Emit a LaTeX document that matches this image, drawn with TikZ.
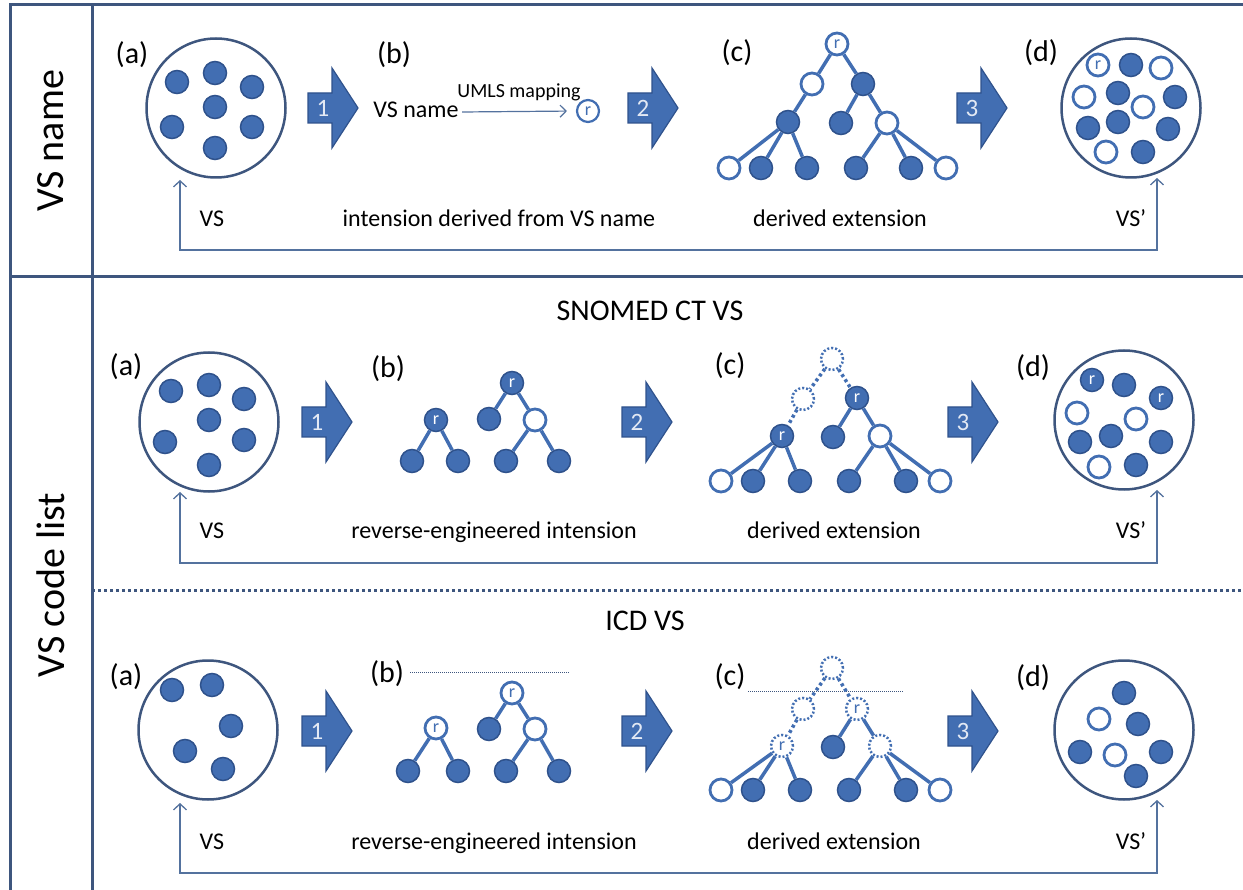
\documentclass[tikz,border=0pt]{standalone}
\usepackage{fontspec}
\setmainfont{Carlito}
\usetikzlibrary{arrows.meta}
\definecolor{dotblue}{RGB}{66,110,178}
\definecolor{dotedge}{RGB}{47,82,140}
\definecolor{frameblue}{RGB}{62,86,126}
\definecolor{lineblue}{RGB}{84,114,158}

\begin{document}
\begin{tikzpicture}[x=1pt,y=-1pt,
            frame/.style={draw=frameblue,line width=3pt},
            side/.style={rotate=90,font=\fontsize{40}{40}\selectfont},
            title/.style={font=\fontsize{30}{30}\selectfont},
            tag/.style={font=\fontsize{30}{30}\selectfont},
            lab/.style={font=\fontsize{24}{24}\selectfont,text height=17pt,text depth=6pt},
            set/.style={circle,draw=frameblue,line width=2.5pt,fill=white,minimum size=139pt,inner sep=0pt},
            dot/.style={circle,draw=dotedge,fill=dotblue,line width=1.5pt,minimum size=23pt,inner sep=0pt,text=white,font=\fontsize{18}{18}\selectfont},
            wdot/.style={dot,draw=dotblue,fill=white,line width=2.8pt,text=dotblue,minimum size=22pt},
            ghost/.style={wdot,line width=2.5pt,dash pattern=on 2pt off 2pt},
            tree/.style={draw=dotblue,line width=3.5pt},
            ghostline/.style={tree,dash pattern=on 3pt off 3pt},
            feedback/.style={draw=lineblue,line width=1.3pt,{Straight Barb[length=6pt,width=13pt]}-{Straight Barb[length=6pt,width=13pt]}},
            num/.style={text=white!85!dotblue,font=\fontsize{25}{25}\selectfont},
            stepfill/.style={fill=dotblue,draw=dotedge,line width=1.2pt}
          ]
          \useasboundingbox (0,0) rectangle (1243,890);

          %frame
          \draw[frame] (10,890) -- (10,5) -- (1243,5);
          \draw[frame] (92,5) -- (92,890);
          \draw[frame] (10,277) -- (1243,277);
          \draw[frame,dash pattern=on 3pt off 3pt] (92,590) -- (1243,590);
          \node[side] (vsname) at (51,141) {VS name};
          \node[side] (vscode) at (51,585) {VS code list};
          \node[title] (snomed) at (650,311) {SNOMED CT VS};
          \node[title] (icd) at (645,621) {ICD VS};

          %steps
          \foreach \x/\y/\n in {308/108/1,628/108/2,957/108/3,302/422/1,622/422/2,948/422/3,302/731/1,622/731/2,948/731/3}{
            \filldraw[stepfill] (\x,\y-15) -- ++(24,0) -- ++(0,-25) -- ++(26,40) -- ++(-26,40) -- ++(0,-25) -- ++(-24,0) -- cycle;
            \node[num] (step-\x-\y) at (\x+15,\y) {\n};
          }

          %tags
          \node[tag] (ta) at (132,55) {(a)};
          \node[tag] (tb) at (394,55) {(b)};
          \node[tag] (tc) at (737,53) {(c)};
          \node[tag] (td) at (1041,53) {(d)};
          \node[tag] (ma) at (126,367) {(a)};
          \node[tag] (mb) at (388,369) {(b)};
          \node[tag] (mc) at (730,366) {(c)};
          \node[tag] (md) at (1033,368) {(d)};
          \node[tag] (ba) at (126,677) {(a)};
          \node[tag] (bb) at (387,674) {(b)};
          \node[tag] (bc) at (730,677) {(c)};
          \node[tag] (bd) at (1033,678) {(d)};

          %sets
          \node[set] (tset) at (216,108) {};
          \node[set] (tnew) at (1131,108) {};
          \node[set] (mset) at (209,422) {};
          \node[set] (mnew) at (1124,420) {};
          \node[set] (bset) at (208,730) {};
          \node[set] (bnew) at (1124,730) {};
          \foreach \x/\y [count=\i] in {177/82,215/73,252/87,215/107,172/127,252/127,215/148}
            \node[dot] (ta\i) at (\x,\y) {};
          \foreach \x/\y [count=\i] in {171/391,209/385,244/399,209/420,165/442,244/440,209/465}
            \node[dot] (ma\i) at (\x,\y) {};
          \foreach \x/\y [count=\i] in {172/690,212/685,231/726,185/751,223/769}
            \node[dot] (ba\i) at (\x,\y) {};
          \node[wdot] (td0) at (1098,65) {r};
          \foreach \x/\y [count=\i] in {1131/65,1118/93,1175/97,1088/128,1118/122,1168/129,1143/152}
            \node[dot] (td\i) at (\x,\y) {};
          \foreach \x/\y [count=\i] in {1161/68,1084/97,1143/107,1106/152}
            \node[wdot] (tw\i) at (\x,\y) {};
          \node[dot] (md0) at (1092,380) {r};
          \node[dot] (mdr) at (1161,398) {r};
          \foreach \x/\y [count=\i] in {1124/385,1080/442,1111/436,1161/442,1136/465}
            \node[dot] (md\i) at (\x,\y) {};
          \foreach \x/\y [count=\i] in {1077/413,1136/419,1099/467}
            \node[wdot] (mw\i) at (\x,\y) {};
          \foreach \x/\y [count=\i] in {1124/693,1138/724,1080/752,1161/752,1136/776}
            \node[dot] (bd\i) at (\x,\y) {};
          \foreach \x/\y [count=\i] in {1099/719,1115/755}
            \node[wdot] (bw\i) at (\x,\y) {};

          %intension from name
          \node[lab] (tname) at (416,112) {VS name};
          \node[wdot,minimum size=22pt,line width=2.2pt] (tr) at (588,111) {r};
          \draw[draw=lineblue,line width=1.2pt,-{Straight Barb[length=6pt,width=12pt]},shorten >=9pt] (tname.east) -- (tr.west)
            node[midway,above=7pt,font=\fontsize{20}{20}\selectfont] (umls) {UMLS mapping};

          %derived extension, top
          \node[wdot] (tc0) at (837,44) {r};
          \node[wdot] (tc1) at (812,84) {};
          \node[dot] (tc2) at (863,84) {};
          \node[dot] (tc3) at (788,122) {};
          \node[dot] (tc4) at (841,123) {};
          \node[wdot] (tc5) at (887,123) {};
          \node[wdot] (tc6) at (729,168) {};
          \node[dot] (tc7) at (761,168) {};
          \node[dot] (tc8) at (807,168) {};
          \node[dot] (tc9) at (856,168) {};
          \node[dot] (tc10) at (911,168) {};
          \node[wdot] (tc11) at (946,168) {};
          \path[tree] (tc0) edge (tc1) (tc0) edge (tc2) (tc1) edge (tc3) (tc2) edge (tc4) (tc2) edge (tc5)
            (tc3) edge (tc6) (tc3) edge (tc7) (tc3) edge (tc8) (tc5) edge (tc9) (tc5) edge (tc10) (tc5) edge (tc11);

          %intension, snomed
          \node[dot] (mb0) at (436,420) {r};
          \node[dot] (mb1) at (412,461) {};
          \node[dot] (mb2) at (458,461) {};
          \node[dot] (mb3) at (512,383) {r};
          \node[dot] (mb4) at (489,419) {};
          \node[wdot] (mb5) at (535,420) {};
          \node[dot] (mb6) at (506,461) {};
          \node[dot] (mb7) at (559,461) {};
          \path[tree] (mb0) edge (mb1) (mb0) edge (mb2) (mb3) edge (mb4) (mb3) edge (mb5) (mb5) edge (mb6) (mb5) edge (mb7);

          %extension, snomed
          \node[ghost] (mc0) at (832,359) {};
          \node[ghost] (mc1) at (803,399) {};
          \node[dot] (mc2) at (857,398) {r};
          \node[dot] (mc3) at (782,436) {r};
          \node[dot] (mc4) at (833,437) {};
          \node[wdot] (mc5) at (880,436) {};
          \node[wdot] (mc6) at (721,481) {};
          \node[dot] (mc7) at (753,481) {};
          \node[dot] (mc8) at (800,481) {};
          \node[dot] (mc9) at (849,481) {};
          \node[dot] (mc10) at (906,481) {};
          \node[wdot] (mc11) at (940,481) {};
          \path[ghostline] (mc0) edge (mc1) (mc0) edge (mc2) (mc1) edge (mc3);
          \path[tree] (mc2) edge (mc4) (mc2) edge (mc5) (mc3) edge (mc6) (mc3) edge (mc7) (mc3) edge (mc8)
            (mc5) edge (mc9) (mc5) edge (mc10) (mc5) edge (mc11);

          %intension, icd
          \draw[densely dotted,line width=1pt,frameblue] (410,672) -- (570,672);
          \node[wdot] (bb0) at (436,728) {r};
          \node[dot] (bb1) at (408,771) {};
          \node[dot] (bb2) at (458,771) {};
          \node[wdot] (bb3) at (512,693) {r};
          \node[dot] (bb4) at (489,729) {};
          \node[wdot] (bb5) at (535,729) {};
          \node[dot] (bb6) at (506,771) {};
          \node[dot] (bb7) at (559,771) {};
          \path[tree] (bb0) edge (bb1) (bb0) edge (bb2) (bb3) edge (bb4) (bb3) edge (bb5) (bb5) edge (bb6) (bb5) edge (bb7);

          %extension, icd
          \draw[densely dotted,line width=1pt,frameblue] (748,691) -- (903,691);
          \node[ghost] (bc0) at (832,668) {};
          \node[ghost] (bc1) at (803,709) {};
          \node[ghost] (bc2) at (857,709) {r};
          \node[ghost] (bc3) at (782,746) {r};
          \node[dot] (bc4) at (833,747) {};
          \node[ghost] (bc5) at (880,746) {};
          \node[wdot] (bc6) at (721,790) {};
          \node[dot] (bc7) at (753,790) {};
          \node[dot] (bc8) at (800,790) {};
          \node[dot] (bc9) at (849,790) {};
          \node[dot] (bc10) at (906,790) {};
          \node[wdot] (bc11) at (940,790) {};
          \path[ghostline] (bc0) edge (bc1) (bc0) edge (bc2) (bc1) edge (bc3);
          \path[tree] (bc2) edge (bc4) (bc2) edge (bc5) (bc3) edge (bc6) (bc3) edge (bc7) (bc3) edge (bc8)
            (bc5) edge (bc9) (bc5) edge (bc10) (bc5) edge (bc11);

          %labels
          \node[lab] (tvs) at (212,221) {VS};
          \node[lab] (tint) at (499,221) {intension derived from VS name};
          \node[lab] (text) at (840,221) {derived extension};
          \node[lab] (tvsp) at (1131,221) {VS’};
          \node[lab] (mvs) at (212,533) {VS};
          \node[lab] (mint) at (494,533) {reverse-engineered intension};
          \node[lab] (mext) at (834,533) {derived extension};
          \node[lab] (mvsp) at (1131,533) {VS’};
          \node[lab] (bvs) at (212,844) {VS};
          \node[lab] (bint) at (494,844) {reverse-engineered intension};
          \node[lab] (bext) at (834,844) {derived extension};
          \node[lab] (bvsp) at (1131,844) {VS’};

          %feedback
          \coordinate (tl) at (180,180);
          \coordinate (tb) at (1157,250);
          \coordinate (tr) at (1157,178);
          \coordinate (ml) at (180,492);
          \coordinate (mb) at (1157,563);
          \coordinate (mr) at (1157,490);
          \coordinate (bl) at (180,803);
          \coordinate (bb) at (1157,873);
          \coordinate (br) at (1157,800);
          \draw[feedback] (tl) |- (tb) -- (tr);
          \draw[feedback] (ml) |- (mb) -- (mr);
          \draw[feedback] (bl) |- (bb) -- (br);

      \end{tikzpicture}
\end{document}
